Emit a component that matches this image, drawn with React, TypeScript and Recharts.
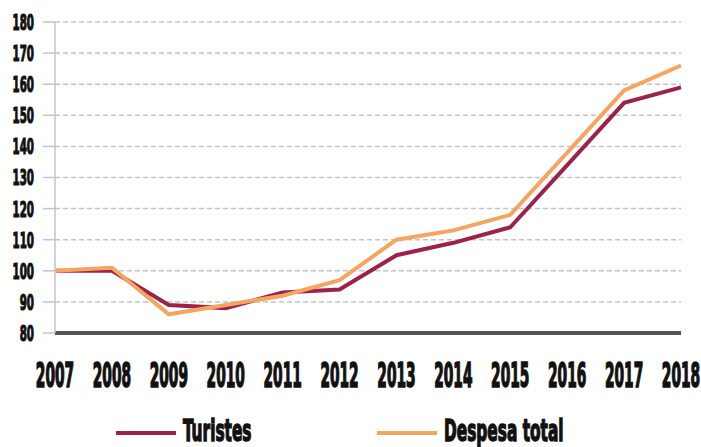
import React from 'react';
import { LineChart, Line, XAxis, YAxis, CartesianGrid, Legend } from 'recharts';

const years = ['2007', '2008', '2009', '2010', '2011', '2012', '2013', '2014', '2015', '2016', '2017', '2018'];
const turistes = [100, 100, 89, 88, 93, 94, 105, 109, 114, 134, 154, 159];
const despesa = [100, 101, 86, 89, 92, 97, 110, 113, 118, 138, 158, 166];
const yTicks = [80, 90, 100, 110, 120, 130, 140, 150, 160, 170, 180];
const seriesNames = ['Turistes', 'Despesa total'];
const colors = ['#9b2349', '#f5a55f'];

const data = years.map((y, i) => ({ year: y, turistes: turistes[i], despesa: despesa[i] }));

const FONT = '"DejaVu Sans Condensed", "DejaVu Sans", sans-serif';

const YTick = (props: any) => {
  const { x, y, payload } = props;
  return (
    <g transform={`translate(${x - 7},${y})`}>
      <text
        x={0}
        y={0}
        dy="0.36em"
        textAnchor="end"
        transform="scale(0.52,1)"
        fontFamily={FONT}
        fontWeight="bold"
        fontSize={22}
        fill="#111"
        stroke="#111"
        strokeWidth={1.2}
      >
        {payload.value}
      </text>
    </g>
  );
};

const XTick = (props: any) => {
  const { x, y, payload } = props;
  return (
    <g transform={`translate(${x},${y + 34})`}>
      <text
        x={0}
        y={0}
        dy="0.36em"
        textAnchor="middle"
        transform="scale(0.45,1)"
        fontFamily={FONT}
        fontWeight="bold"
        fontSize={34}
        fill="#111"
        stroke="#111"
        strokeWidth={1.6}
      >
        {payload.value}
      </text>
    </g>
  );
};

const LegendContent = () => {
  const starts = [116, 377];
  return (
    <svg width={681} height={54} style={{ display: 'block', overflow: 'visible' }}>
      {seriesNames.map((n, i) => (
        <g key={n}>
          <line x1={starts[i]} x2={starts[i] + 60} y1={40} y2={40} stroke={colors[i]} strokeWidth={4} />
          <g transform={`translate(${starts[i] + 67},${37})`}>
            <text
              x={0}
              y={0}
              dy="0.36em"
              textAnchor="start"
              transform="scale(0.57,1)"
              fontFamily={FONT}
              fontWeight="bold"
              fontSize={30}
              fill="#111"
              stroke="#111"
              strokeWidth={1.4}
            >
              {n}
            </text>
          </g>
        </g>
      ))}
    </svg>
  );
};

export default function App() {
  return (
    <div style={{ position: 'absolute', left: 0, top: 0, width: 701, height: 447, background: '#fff' }}>
      <LineChart width={701} height={447} data={data} margin={{ top: 22, right: 20, left: 0, bottom: 0 }}>
        <CartesianGrid vertical={false} stroke="#c4c4c4" strokeDasharray="5 3" strokeWidth={1.5} />
        <XAxis
          dataKey="year"
          interval={0}
          height={60}
          tickLine={false}
          axisLine={{ stroke: '#555', strokeWidth: 4 }}
          tick={<XTick />}
        />
        <YAxis
          domain={[80, 180]}
          ticks={yTicks}
          width={55}
          tickSize={12}
          tickLine={{ stroke: '#c4c4c4', strokeWidth: 1.5 }}
          axisLine={{ stroke: '#c4c4c4', strokeWidth: 1.5 }}
          tick={<YTick />}
          interval={0}
        />
        <Legend verticalAlign="bottom" height={54} content={<LegendContent />} />
        <Line type="linear" dataKey="turistes" name={seriesNames[0]} stroke={colors[0]} strokeWidth={4} dot={false} isAnimationActive={false} />
        <Line type="linear" dataKey="despesa" name={seriesNames[1]} stroke={colors[1]} strokeWidth={4} dot={false} isAnimationActive={false} />
      </LineChart>
    </div>
  );
}
